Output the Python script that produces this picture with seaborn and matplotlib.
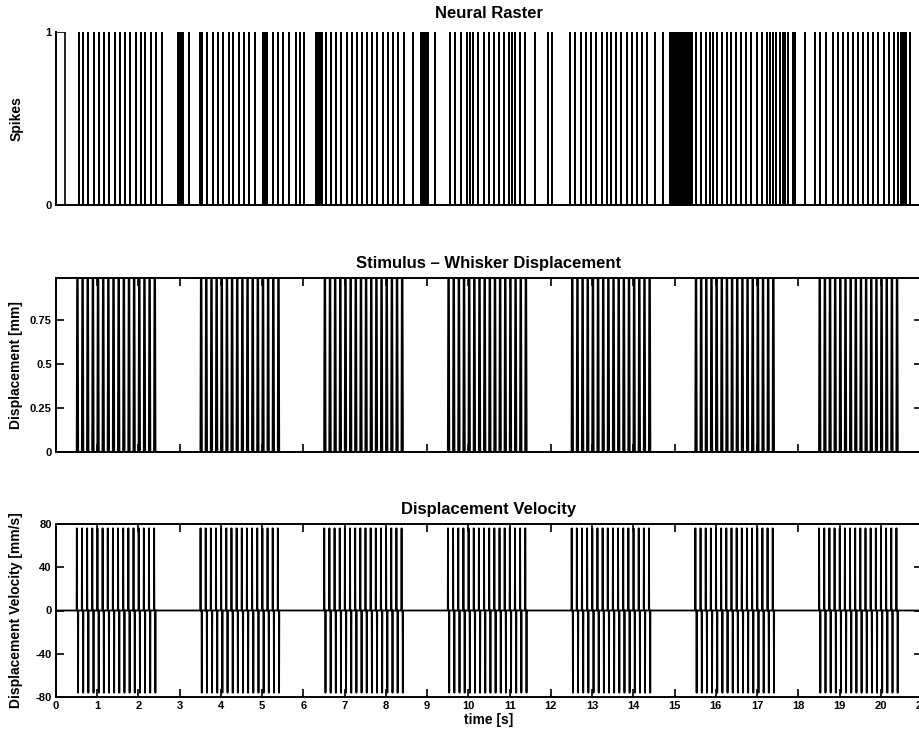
import matplotlib
matplotlib.use("Agg")
import matplotlib.pyplot as plt
import numpy as np
import pandas as pd
import seaborn as sns

# ---------------- data ----------------
rec_start = 0.0
rec_end = 21.0

# Neural raster: initial high state, then spike times [s]
raster_initial_high_until = 0.22
spike_times = [
    0.56, 0.66, 0.78, 0.92, 1.04, 1.17, 1.29, 1.42, 1.55, 1.67, 1.80, 1.93, 2.06, 2.17, 2.30, 2.42, 2.58,
    2.97, 3.01, 3.05, 3.07, 3.23,
    3.49, 3.53, 3.67, 3.80, 3.93, 4.06, 4.19, 4.30, 4.43, 4.57, 4.69, 4.82,
    5.03, 5.07, 5.11, 5.27, 5.39, 5.51, 5.65, 5.82, 5.92, 6.01,
    6.30, 6.34, 6.37, 6.40, 6.44, 6.55, 6.67, 6.79, 6.91, 7.05, 7.17, 7.29, 7.41, 7.53, 7.67,
    7.79, 7.92, 8.04, 8.16, 8.30, 8.44,
    8.65, 8.84, 8.87, 8.90, 8.95, 8.99, 9.03, 9.19,
    9.55, 9.67, 9.83, 9.96, 10.04, 10.12, 10.24, 10.38, 10.50, 10.63, 10.75, 10.87, 10.99, 11.05,
    11.13, 11.25, 11.37, 11.61,
    11.94, 12.02,
    12.46, 12.58, 12.72, 12.85, 12.97, 13.09, 13.23, 13.35, 13.47, 13.59, 13.71, 13.84, 13.96,
    14.08, 14.20, 14.32, 14.52, 14.72,
    14.90, 14.93, 14.96, 15.01, 15.05, 15.09, 15.13, 15.19, 15.23, 15.27, 15.31, 15.35, 15.39, 15.43,
    15.53, 15.65, 15.77, 15.87, 15.92, 16.02, 16.14, 16.26, 16.38, 16.50, 16.62, 16.74, 16.86,
    16.99, 17.11, 17.23, 17.31, 17.39, 17.47, 17.55, 17.63, 17.67, 17.75, 17.87, 17.92,
    18.16,
    18.40, 18.52, 18.68, 18.83, 18.97, 19.09, 19.21, 19.33, 19.46, 19.58, 19.70, 19.82, 19.94,
    20.07, 20.19, 20.31, 20.43, 20.50, 20.54, 20.58, 20.62, 20.72,
]

# Stimulus: bursts of pulses
burst_onsets = [0.5, 3.5, 6.5, 9.5, 12.5, 15.5, 18.5]
pulse_offsets = [0.0, 0.125, 0.25, 0.375, 0.5, 0.625, 0.75, 0.875,
                 1.0, 1.125, 1.25, 1.375, 1.5, 1.625, 1.75, 1.875]
pulse_width = 0.03
pulse_rise = 0.01
displacement_amp = 0.99   # mm
velocity_amp = 76.0       # mm/s

disp_yticks = [0, 0.25, 0.5, 0.75]
disp_yticklabels = ["0", "0.25", "0.5", "0.75"]
vel_yticks = [-80, -40, 0, 40, 80]
time_ticks = list(range(0, 22))

# ---------------- build the series ----------------
rx = [rec_start, raster_initial_high_until, raster_initial_high_until]
ry = [1, 1, 0]
for t in spike_times:
    rx += [t, t, t]
    ry += [0, 1, 0]
rx.append(rec_end); ry.append(0)
raster_df = pd.DataFrame({"t": rx, "v": ry})

dx = [rec_start]; dy = [0]
vx = [rec_start]; vy = [0]
for onset in burst_onsets:
    for off in pulse_offsets:
        t = onset + off
        dx += [t, t + pulse_rise, t + pulse_width, t + pulse_width + pulse_rise]
        dy += [0, displacement_amp, displacement_amp, 0]
        vx += [t, t + pulse_rise / 2, t + pulse_rise,
               t + pulse_width, t + pulse_width + pulse_rise / 2, t + pulse_width + pulse_rise]
        vy += [0, velocity_amp, 0, 0, -velocity_amp, 0]
dx.append(rec_end); dy.append(0)
vx.append(rec_end); vy.append(0)
disp_df = pd.DataFrame({"t": dx, "v": dy})
vel_df = pd.DataFrame({"t": vx, "v": vy})

# ---------------- style ----------------
sns.set_theme(style="white")
plt.rcParams["font.family"] = ["Liberation Sans", "DejaVu Sans"]
plt.rcParams["font.weight"] = "bold"
plt.rcParams["axes.labelweight"] = "bold"
plt.rcParams["axes.titleweight"] = "bold"
plt.rcParams["axes.unicode_minus"] = False
plt.rcParams["text.color"] = "black"
plt.rcParams["axes.labelcolor"] = "black"
plt.rcParams["axes.titlecolor"] = "black"

fig = plt.figure(figsize=(9.19, 7.32), dpi=100)
W, H = 919.0, 732.0
x0, x1 = 56.0, 922.0

def add_ax(top, bottom):
    return fig.add_axes([x0 / W, 1 - bottom / H, (x1 - x0) / W, (bottom - top) / H])

ax1 = add_ax(32, 205)
ax2 = add_ax(278, 452)
ax3 = add_ax(524, 697)

line_kw = dict(x="t", y="v", sort=False, estimator=None, color="black")
sns.lineplot(data=raster_df, ax=ax1, linewidth=1.2, **line_kw)
sns.lineplot(data=disp_df, ax=ax2, linewidth=1.2, **line_kw)
sns.lineplot(data=vel_df, ax=ax3, linewidth=1.3, **line_kw)

for ax in (ax1, ax2, ax3):
    ax.set_xlim(rec_start, rec_end)
    ax.set_xlabel("")
    for s in ax.spines.values():
        s.set_color("black")
        s.set_linewidth(1.4)
    ax.tick_params(direction="in", length=6, width=1.2, colors="black",
                   labelsize=8, pad=3)

# Raster
ax1.set_ylim(0, 1)
ax1.spines["top"].set_visible(False)
ax1.spines["right"].set_visible(False)
ax1.set_xticks([])
ax1.set_yticks([0, 1])
ax1.set_yticklabels(["0", "1"])
ax1.tick_params(axis="y", length=0)
ax1.set_ylabel("Spikes", fontsize=10)
ax1.set_title("Neural Raster", fontsize=12, pad=10)

# Displacement
ax2.set_ylim(0, displacement_amp)
ax2.set_xticks(time_ticks)
ax2.tick_params(axis="x", top=True, bottom=True, labelbottom=False)
ax2.set_yticks(disp_yticks)
ax2.set_yticklabels(disp_yticklabels)
ax2.tick_params(axis="y", left=True, right=True)
ax2.set_ylabel("Displacement [mm]", fontsize=10)
ax2.set_title("Stimulus \u2013 Whisker Displacement", fontsize=12, pad=7)

# Velocity
ax3.set_ylim(-80, 80)
ax3.set_xticks(time_ticks)
ax3.set_xticklabels([str(t) for t in time_ticks])
ax3.tick_params(axis="x", top=True, bottom=True)
ax3.set_yticks(vel_yticks)
ax3.set_yticklabels([str(v) for v in vel_yticks])
ax3.tick_params(axis="y", left=True, right=True)
ax3.set_ylabel("Displacement Velocity [mm/s]", fontsize=10)
ax3.set_xlabel("time [s]", fontsize=10, labelpad=1)
ax3.set_title("Displacement Velocity", fontsize=12, pad=7)

for ax in (ax1, ax2, ax3):
    ax.yaxis.set_label_coords(-0.038, 0.5)

fig.savefig("out.png", dpi=100, facecolor="white")
